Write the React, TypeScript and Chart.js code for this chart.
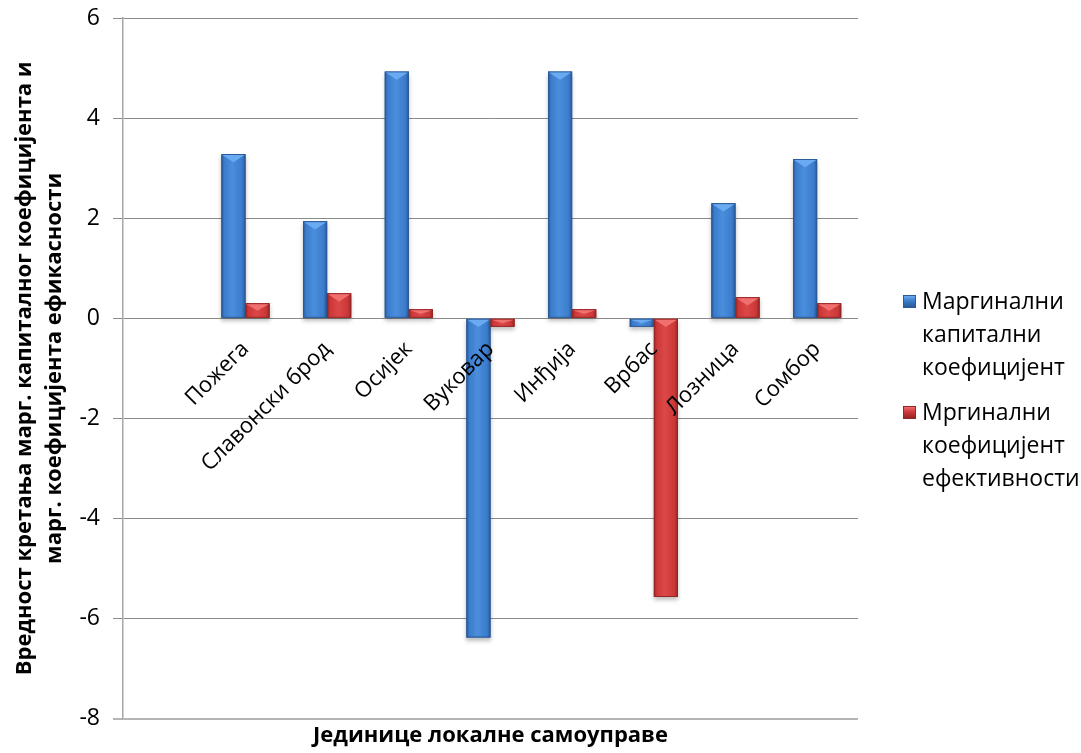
import React, { useEffect, useRef } from "react";
import { Chart, registerables } from "chart.js";

Chart.register(...registerables);

const categories = ["", "Пожега", "Славонски брод", "Осијек", "Вуковар", "Инђија", "Врбас", "Лозница", "Сомбор"];
const capitalCoef = [null, 3.28, 1.94, 4.93, -6.38, 4.93, -0.17, 2.3, 3.18];
const efficiencyCoef = [null, 0.3, 0.5, 0.18, -0.17, 0.18, -5.57, 0.42, 0.3];
const seriesNames = ["Маргинални капитални коефицијент", "Мргинални коефицијент ефективности"];
const legendLines = [
  ["Маргинални", "капитални", "коефицијент"],
  ["Мргинални", "коефицијент", "ефективности"],
];
const yTitle = ["Вредност кретања марг. капиталног коефицијента и", "марг. коефицијента ефикасности"];
const xTitle = "Јединице локалне самоуправе";

const FONT = "'Open Sans', 'Noto Sans', sans-serif";

const PALETTE = [
  { base: "#3b7ccc", edge: "#2a5a98", light: "#4a8edc", top: "#6aaaf0" },
  { base: "#cc3838", edge: "#962626", light: "#dc4848", top: "#f07070" },
];

const bevelPlugin = {
  id: "bevel",
  afterDatasetsDraw(chart: any) {
    const ctx = chart.ctx as CanvasRenderingContext2D;
    chart.data.datasets.forEach((_ds: any, di: number) => {
      const meta = chart.getDatasetMeta(di);
      const pal = PALETTE[di];
      meta.data.forEach((el: any) => {
        if (el.skip || el.y == null || isNaN(el.y)) return;
        const { x, y, base, width } = el.getProps(["x", "y", "base", "width"], true);
        const left = x - width / 2;
        const top = Math.min(y, base);
        const h = Math.abs(base - y);
        if (h < 1) return;
        ctx.save();
        ctx.shadowColor = "rgba(0,0,0,0.25)";
        ctx.shadowBlur = 4;
        ctx.shadowOffsetY = 3;
        const g = ctx.createLinearGradient(left, 0, left + width, 0);
        g.addColorStop(0, pal.edge);
        g.addColorStop(0.12, pal.base);
        g.addColorStop(0.45, pal.light);
        g.addColorStop(0.85, pal.base);
        g.addColorStop(1, pal.edge);
        ctx.fillStyle = g;
        ctx.fillRect(left, top, width, h);
        ctx.restore();
        ctx.save();
        ctx.strokeStyle = pal.edge;
        ctx.lineWidth = 1;
        ctx.strokeRect(left + 0.5, top + 0.5, width - 1, h - 1);
        const depth = Math.min(width * 0.3, h * 0.45);
        ctx.beginPath();
        ctx.moveTo(left + 1, top + 1);
        ctx.lineTo(left + width - 1, top + 1);
        ctx.lineTo(left + width / 2, top + 1 + depth);
        ctx.closePath();
        ctx.fillStyle = pal.top;
        ctx.fill();
        ctx.restore();
      });
    });
  },
};

export default function App() {
  const ref = useRef<HTMLCanvasElement>(null);
  useEffect(() => {
    document.body.style.margin = "0";
    const chart = new Chart(ref.current!, {
      type: "bar",
      data: {
        labels: categories,
        datasets: [
          {
            label: seriesNames[0],
            data: capitalCoef,
            backgroundColor: PALETTE[0].base,
            borderColor: PALETTE[0].edge,
            borderWidth: 1,
            barPercentage: 1,
            categoryPercentage: 0.59,
          },
          {
            label: seriesNames[1],
            data: efficiencyCoef,
            backgroundColor: PALETTE[1].base,
            borderColor: PALETTE[1].edge,
            borderWidth: 1,
            barPercentage: 1,
            categoryPercentage: 0.59,
          },
        ],
      },
      plugins: [bevelPlugin],
      options: {
        responsive: false,
        animation: false,
        layout: { padding: { top: 18, right: 223, left: 0, bottom: 0 } },
        plugins: {
          legend: { display: false },
          tooltip: { enabled: false },
          title: {
            display: true,
            position: "bottom",
            fullSize: false,
            text: xTitle,
            color: "#000",
            font: { family: FONT, size: 22, weight: "bold" },
            padding: { top: 4, bottom: 4 },
          },
        },
        scales: {
          x: {
            position: { y: 0 } as any,
            grid: { display: false },
            border: { display: false },
            ticks: {
              z: 1,
              autoSkip: false,
              maxRotation: 45,
              minRotation: 45,
              padding: 10,
              color: "#000",
              font: { family: FONT, size: 22 },
            },
            afterFit: (scale: any) => {
              scale.paddingTop = 0;
              scale.paddingBottom = 0;
            },
          },
          y: {
            min: -8,
            max: 6,
            ticks: {
              stepSize: 2,
              padding: 13,
              color: "#000",
              font: { family: FONT, size: 23 },
            },
            grid: {
              color: (ctx: any) => (ctx.tick && ctx.tick.value === -8 ? "#b4b4b4" : "#8a8a8a"),
              lineWidth: (ctx: any) => (ctx.tick && ctx.tick.value === -8 ? 2 : 1),
              tickLength: 10,
            },
            border: { color: "#a6a6a6", width: 1.5 },
            title: {
              display: true,
              text: yTitle,
              color: "#000",
              font: { family: FONT, size: 22, weight: "bold", lineHeight: 1.35 },
              padding: { top: 10, bottom: 0 },
            },
            afterFit: (scale: any) => {
              scale.width = 123;
              scale.paddingTop = 0;
              scale.paddingBottom = 0;
            },
          },
        },
      },
    });
    return () => chart.destroy();
  }, []);

  return (
    <div style={{ position: "relative", width: 1081, height: 753, background: "#fff" }}>
      <canvas ref={ref} width={1081} height={753} />
      <div style={{ position: "absolute", left: 903, top: 284, fontFamily: FONT, fontSize: 23, color: "#000", lineHeight: "33px" }}>
        {legendLines.map((lines, i) => (
          <div key={i} style={{ position: "relative", paddingLeft: 19, marginBottom: i === 0 ? 12 : 0 }}>
            <span
              style={{
                position: "absolute",
                left: 0,
                top: 11,
                width: 11,
                height: 11,
                background: `linear-gradient(180deg, ${PALETTE[i].top} 0%, ${PALETTE[i].base} 45%, ${PALETTE[i].edge} 100%)`,
                border: `1px solid ${PALETTE[i].edge}`,
              }}
            />
            {lines.map((l, j) => (
              <div key={j}>{l}</div>
            ))}
          </div>
        ))}
      </div>
    </div>
  );
}
